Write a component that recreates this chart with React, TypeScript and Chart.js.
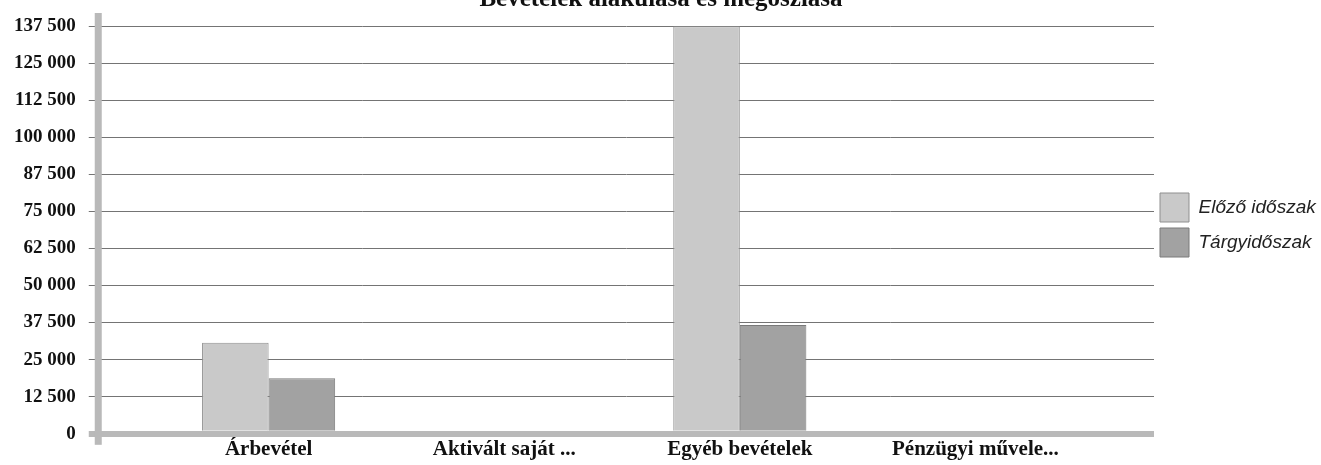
import React, { useEffect, useRef } from 'react';
import { Chart, registerables } from 'chart.js';

Chart.register(...registerables);

const chartTitle = 'Bevételek alakulása és megoszlása';
const categories = ['Árbevétel', 'Aktivált saját ...', 'Egyéb bevételek', 'Pénzügyi művele...'];
const seriesNames = ['Előző időszak', 'Tárgyidőszak'];
const previousPeriod = [30700, 0, 137400, 0];
const currentPeriod = [18700, 0, 36700, 0];
const yMin = 0;
const yMax = 137500;
const yStep = 12500;

const formatThousands = (v: number) => String(v).replace(/\B(?=(\d{3})+(?!\d))/g, ' ');

const axisBand = {
  id: 'axisBand',
  beforeDatasetsDraw(chart: any) {
    const { ctx, chartArea } = chart;
    ctx.save();
    ctx.fillStyle = '#b9b9b9';
    ctx.fillRect(chartArea.left - 4, chartArea.top - 13, 7, chartArea.bottom - chartArea.top + 24);
    ctx.restore();
  },
};

export default function App() {
  const ref = useRef<HTMLCanvasElement | null>(null);
  useEffect(() => {
    if (!ref.current) return;
    const chart = new Chart(ref.current, {
      type: 'bar',
      data: {
        datasets: [
          {
            label: seriesNames[0],
            data: previousPeriod.map((v, i) => ({ x: i, y: v })),
            backgroundColor: '#c9c9c9',
            borderColor: '#8f8f8f',
            borderWidth: 1,
            categoryPercentage: 0.565,
            barPercentage: 1,
          },
          {
            label: seriesNames[1],
            data: currentPeriod.map((v, i) => ({ x: i, y: v })),
            backgroundColor: '#a2a2a2',
            borderColor: '#7a7a7a',
            borderWidth: 1,
            categoryPercentage: 0.565,
            barPercentage: 1,
          },
        ],
      },
      options: {
        responsive: false,
        animation: false,
        layout: { padding: { left: 1, right: 0, top: 0, bottom: 0 } },
        plugins: {
          title: {
            display: true,
            text: chartTitle,
            color: '#111',
            font: { family: 'Liberation Serif', size: 25, weight: 'bold' },
            padding: { top: 0, bottom: 11 },
          },
          legend: {
            position: 'right',
            maxWidth: 167,
            labels: {
              boxWidth: 29,
              boxHeight: 29,
              padding: 6,
              color: '#222',
              font: { family: 'Liberation Sans', size: 19, style: 'italic' },
            },
          },
          tooltip: { enabled: false },
        },
        scales: {
          x: {
            type: 'linear',
            offset: false,
            min: -0.721,
            max: 3.758,
            grid: { display: false, drawTicks: false },
            border: { display: false },
            afterBuildTicks: (axis: any) => {
              axis.ticks = categories.map((_, i) => ({ value: i }));
            },
            ticks: {
              autoSkip: false,
              maxRotation: 0,
              padding: 3,
              color: '#111',
              font: { family: 'Liberation Serif', size: 21, weight: 'bold' },
              callback: (v: any) => categories[Number(v)] ?? '',
            },
          },
          y: {
            min: yMin,
            max: yMax,
            border: { display: false },
            grid: {
              color: (c: any) => (c.tick && c.tick.value === 0 ? '#b9b9b9' : '#747474'),
              lineWidth: (c: any) => (c.tick && c.tick.value === 0 ? 6 : 1),
              tickLength: 10,
            },
            ticks: {
              stepSize: yStep,
              padding: 13,
              color: '#111',
              font: { family: 'Liberation Serif', size: 19, weight: 'bold' },
              callback: (v: any) => formatThousands(Number(v)),
            },
          },
        },
      },
      plugins: [axisBand],
    } as any);
    return () => chart.destroy();
  }, []);
  return (
    <div style={{ position: 'absolute', left: 0, top: -15, width: 1321, height: 480 }}>
      <canvas ref={ref} width={1321} height={480} style={{ width: 1321, height: 480, display: 'block' }} />
    </div>
  );
}
